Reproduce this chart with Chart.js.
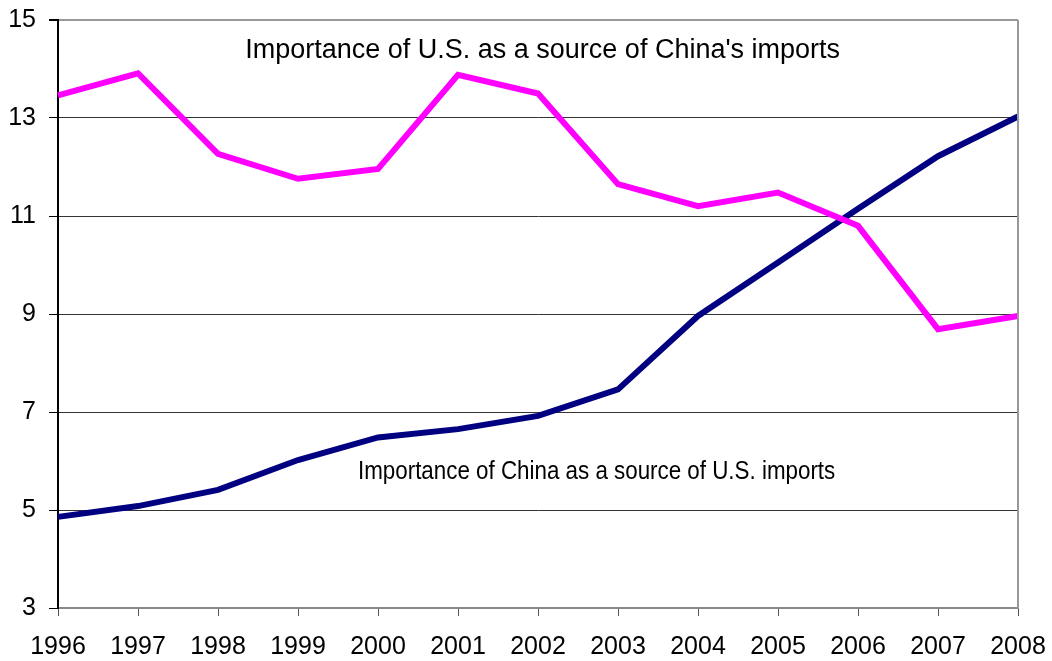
<!DOCTYPE html>
<html lang="en">
<head>
    <meta charset="UTF-8">
    <title>China / U.S. import importance</title>
    <script src="https://cdn.jsdelivr.net/npm/chart.js"></script>
    <style>
        body {
            margin: 0;
            padding: 0;
            background: #fff;
        }
        .wrap {
            width: 1052px;
            height: 661px;
            position: relative;
        }
    </style>
</head>
<body>
    <div class="wrap">
        <canvas id="importChart"></canvas>
    </div>

    <script>
        // Data
        const years = ['1996', '1997', '1998', '1999', '2000', '2001', '2002',
                       '2003', '2004', '2005', '2006', '2007', '2008'];
        const usShareOfChina = [13.46, 13.91, 12.27, 11.76, 11.96, 13.88, 13.50,
                                11.65, 11.20, 11.48, 10.80, 8.69, 8.96];
        const chinaShareOfUS = [4.86, 5.08, 5.41, 6.02, 6.48, 6.65, 6.92,
                                7.46, 8.96, 10.05, 11.15, 12.22, 13.03];
        const yTicks = [3, 5, 7, 9, 11, 13, 15];

        // Labels placed in data coordinates (category index, value)
        const notes = [
            { text: "Importance of U.S. as a source of China's imports", x: 2.34, y: 14.37, size: 27, squeeze: 1 },
            { text: 'Importance of China as a source of U.S. imports', x: 3.75, y: 5.78, size: 26, squeeze: 0.86 }
        ];

        const FONT = '"Liberation Sans", Arial, sans-serif';

        // Draws the two series labels and the right-hand border
        const notesPlugin = {
            id: 'notes',
            afterDatasetsDraw(chart) {
                const c = chart.ctx;
                const xs = chart.scales.x, ys = chart.scales.y;
                const area = chart.chartArea;
                c.save();
                c.strokeStyle = '#999';
                c.lineWidth = 2;
                c.beginPath();
                c.moveTo(area.right, area.top);
                c.lineTo(area.right, area.bottom);
                c.stroke();

                c.fillStyle = '#000';
                c.textAlign = 'left';
                c.textBaseline = 'middle';
                notes.forEach(n => {
                    const px = xs.getPixelForValue(n.x);
                    const py = ys.getPixelForValue(n.y);
                    c.save();
                    c.translate(px, py);
                    c.scale(n.squeeze, 1);
                    c.font = n.size + 'px ' + FONT;
                    c.fillText(n.text, 0, 0);
                    c.restore();
                });
                c.restore();
            }
        };

        const ctx = document.getElementById('importChart').getContext('2d');
        const chart = new Chart(ctx, {
            type: 'line',
            data: {
                labels: years,
                datasets: [
                    {
                        label: "Importance of U.S. as a source of China's imports",
                        data: usShareOfChina,
                        borderColor: '#FF00FF',
                        borderWidth: 6,
                        pointRadius: 0,
                        tension: 0,
                        fill: false
                    },
                    {
                        label: 'Importance of China as a source of U.S. imports',
                        data: chinaShareOfUS,
                        borderColor: '#000080',
                        borderWidth: 6,
                        pointRadius: 0,
                        tension: 0,
                        fill: false
                    }
                ]
            },
            options: {
                responsive: true,
                maintainAspectRatio: false,
                animation: false,
                layout: {
                    padding: { top: 20, right: 34, left: 0, bottom: 0 }
                },
                plugins: {
                    legend: { display: false },
                    tooltip: { enabled: false }
                },
                scales: {
                    x: {
                        type: 'category',
                        offset: false,
                        afterFit(scale) {
                            scale.height = 53;
                            scale.paddingLeft = 0;
                            scale.paddingRight = 0;
                        },
                        border: { color: '#888', width: 2 },
                        grid: {
                            drawOnChartArea: false,
                            tickLength: 8,
                            tickColor: '#555',
                            lineWidth: 1
                        },
                        ticks: {
                            color: '#000',
                            padding: 16,
                            maxRotation: 0,
                            autoSkip: false,
                            font: { family: FONT, size: 25 }
                        }
                    },
                    y: {
                        min: 3,
                        max: 15,
                        afterFit(scale) {
                            scale.width = 58;
                            scale.paddingTop = 0;
                            scale.paddingBottom = 0;
                        },
                        afterBuildTicks(scale) {
                            scale.ticks = yTicks.map(v => ({ value: v }));
                        },
                        border: { color: '#000', width: 2 },
                        grid: {
                            color: c => c.tick && c.tick.value === 15 ? '#999' : '#333',
                            lineWidth: c => c.tick && c.tick.value === 15 ? 2 : 1,
                            tickLength: 9,
                            tickColor: '#000'
                        },
                        ticks: {
                            color: '#000',
                            padding: 13,
                            font: { family: FONT, size: 25 }
                        }
                    }
                }
            },
            plugins: [notesPlugin]
        });
    </script>
</body>
</html>
